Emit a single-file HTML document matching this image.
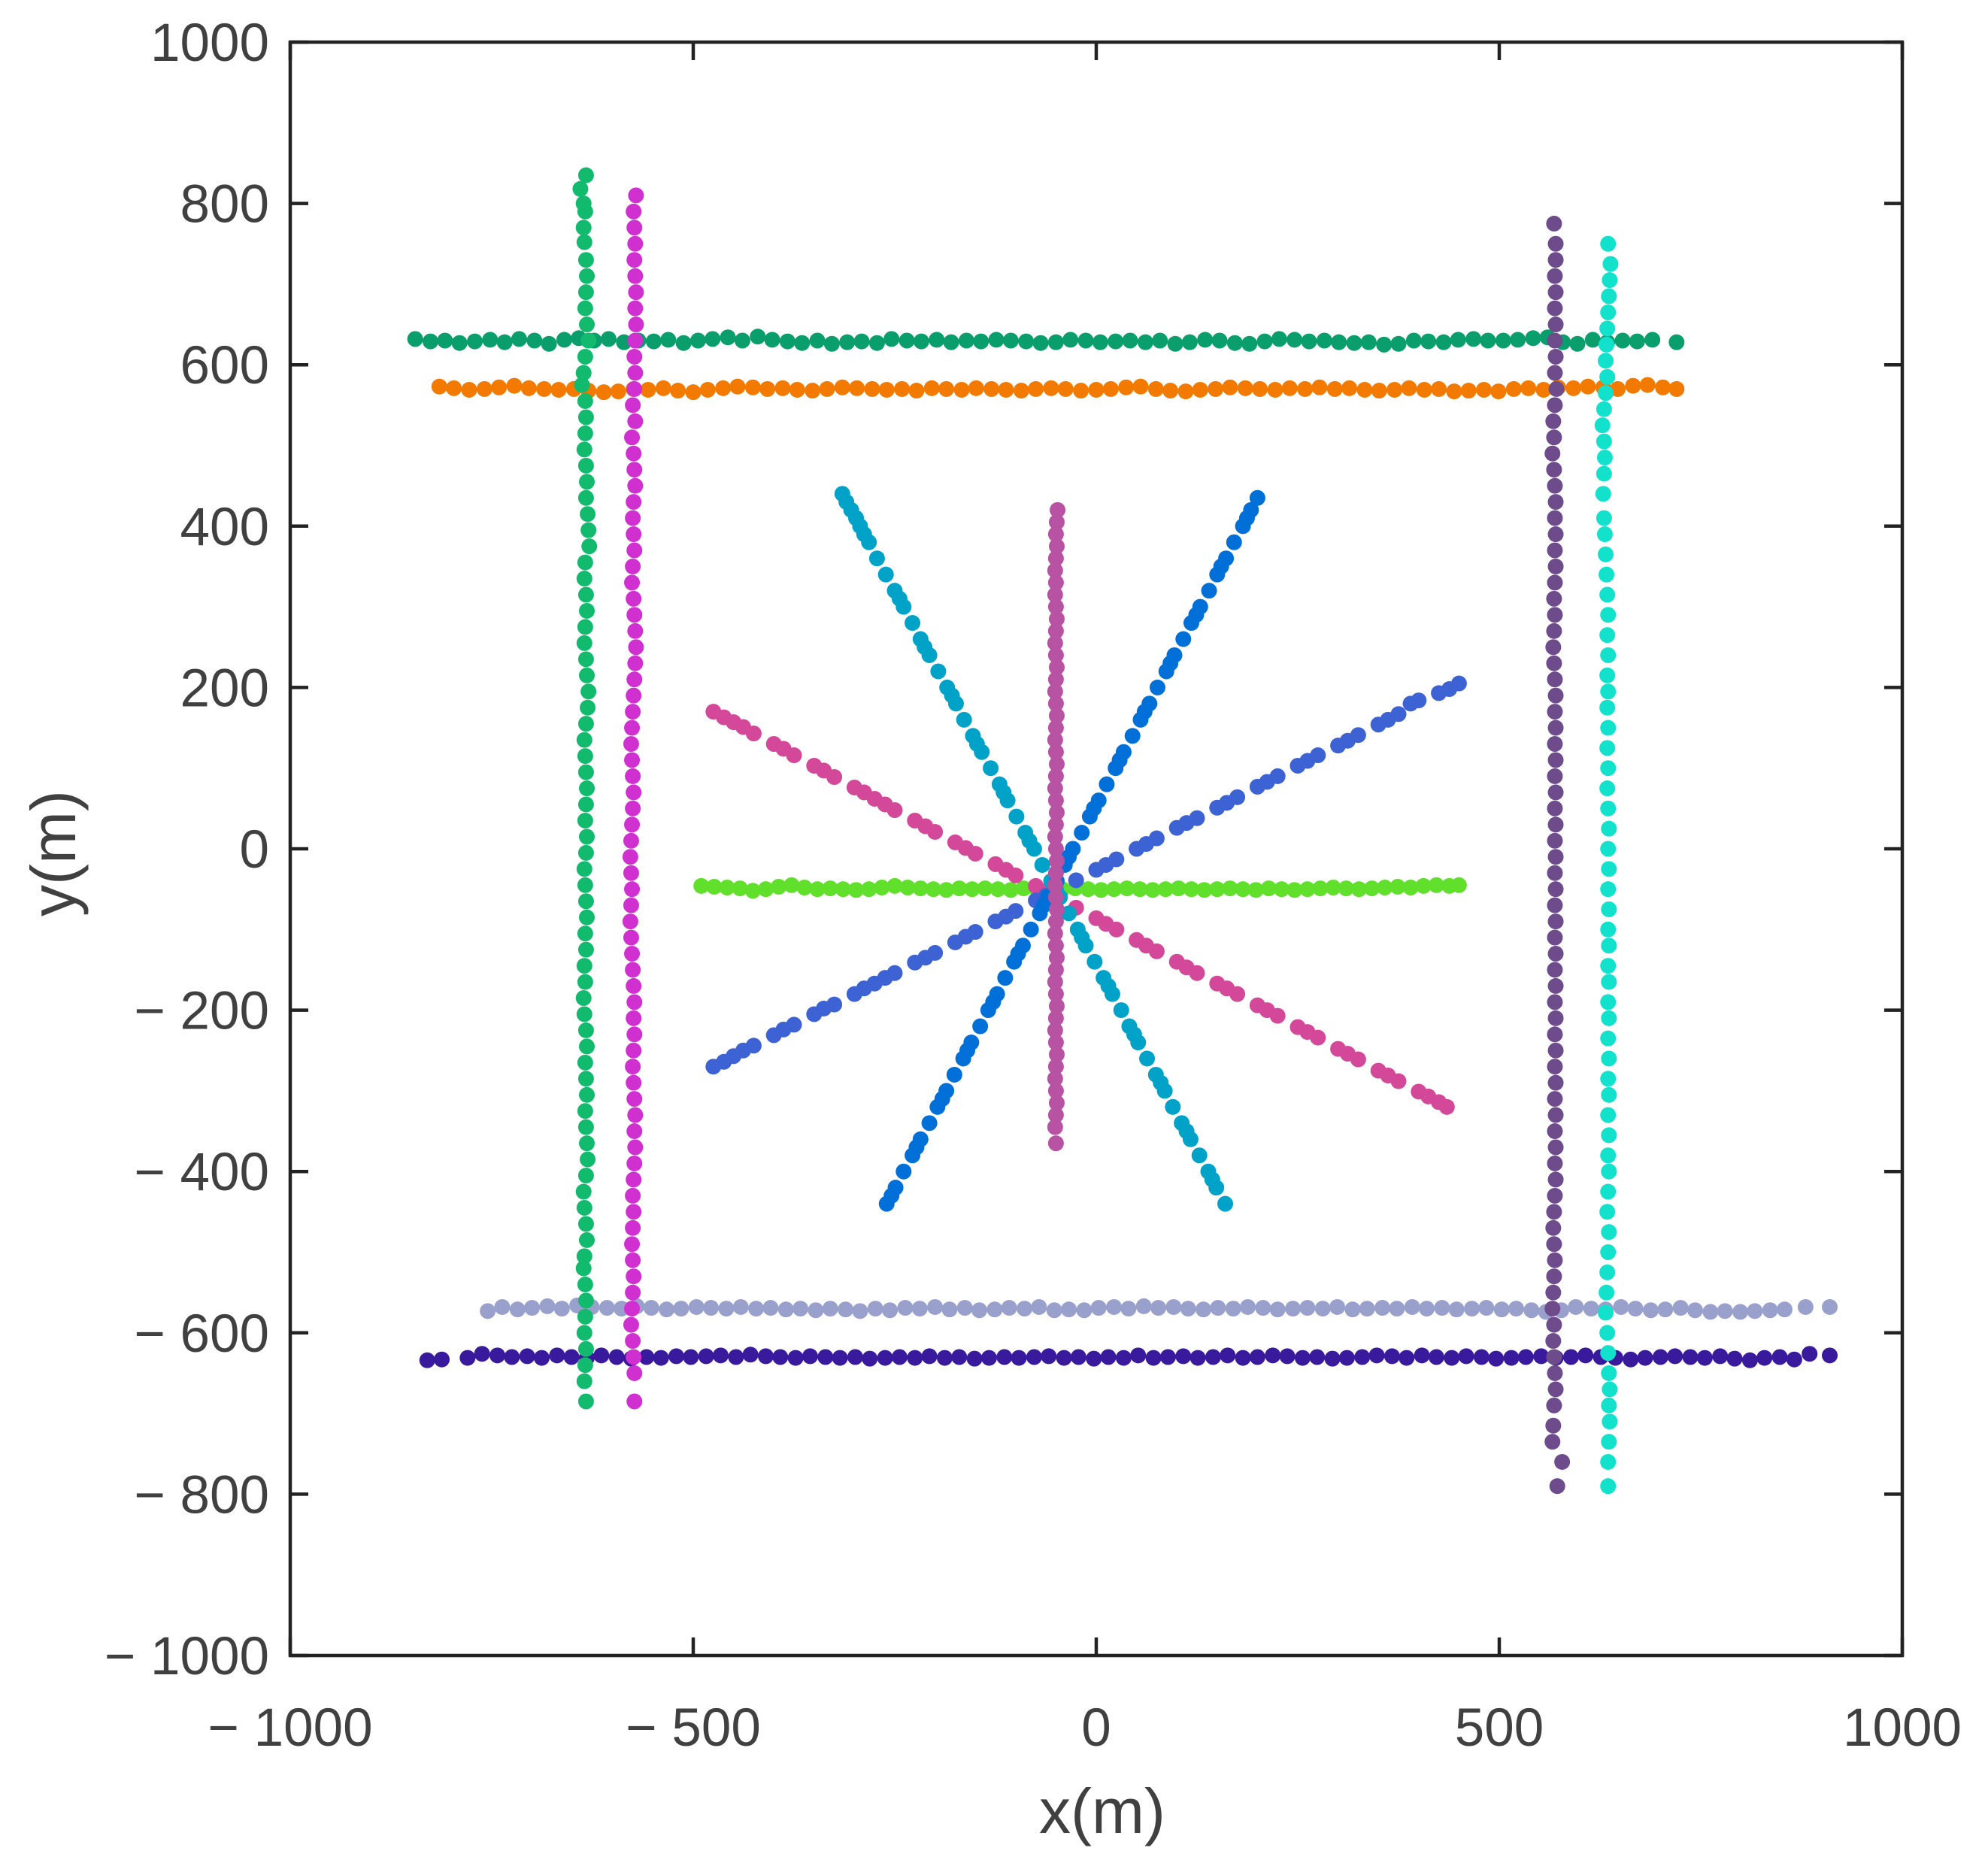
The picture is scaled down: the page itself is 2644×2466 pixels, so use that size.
<!DOCTYPE html>
<html><head><meta charset="utf-8"><style>
html,body{margin:0;padding:0;background:#fff;}
svg{display:block;font-family:"Liberation Sans",sans-serif;}
</style></head><body>
<svg id="chart" width="2644" height="2466" viewBox="0 0 2644 2466" xmlns="http://www.w3.org/2000/svg">
<rect width="2644" height="2466" fill="#fff"/>
<g id="marks"></g>
<g id="axes"></g>
<text x="1466" y="2438" font-size="84" fill="#404040" text-anchor="middle">x(m)</text>
<text x="0" y="0" font-size="84" fill="#404040" text-anchor="middle" transform="translate(100,1135) rotate(-90)">y(m)</text>
</svg>
<script>
const xTicks=[-1000,-500,0,500,1000];
const yTicks=[-1000,-800,-600,-400,-200,0,200,400,600,800,1000];
const xTickLabels=["− 1000","− 500","0","500","1000"];
const yTickLabels=["− 1000","− 800","− 600","− 400","− 200","0","200","400","600","800","1000"];
const seriesNames=["top-green-row","orange-row","lavender-row","indigo-row","green-column","magenta-column","purple-column","cyan-column","lime-row","pink-diagonal","royal-diagonal","teal-diagonal","blue-diagonal","mauve-column"];
const seriesColors=["#0a9e6c","#f27a00","#9aa0cc","#3a1a9c","#12ba6e","#d030d0","#6e4c8c","#12e2cc","#60e02a","#d4489a","#3d62d4","#00a2c8","#0070d8","#b852a2"];
const s1=[[-845,632],[-826,629],[-808,630],[-790,627],[-771,629],[-752,631],[-734,628],[-716,632],[-697,630],[-679,626],[-660,631],[-642,633],[-623,630],[-605,632],[-586,628],[-568,630],[-549,629],[-531,631],[-512,627],[-494,630],[-476,632],[-457,634],[-439,630],[-420,635],[-402,631],[-383,629],[-365,627],[-346,630],[-328,626],[-309,628],[-291,629],[-272,627],[-254,632],[-235,630],[-217,629],[-198,631],[-180,628],[-161,630],[-143,629],[-124,631],[-106,630],[-87,629],[-69,627],[-50,628],[-32,631],[-13,630],[5,628],[24,629],[42,630],[61,628],[79,630],[98,626],[116,628],[135,631],[153,630],[172,627],[190,626],[209,629],[227,632],[246,631],[264,629],[283,630],[301,628],[320,627],[338,628],[357,625],[375,626],[394,630],[412,629],[431,628],[449,631],[468,632],[486,630],[505,630],[523,631],[542,633],[560,634],[579,628],[597,626],[616,631],[634,628],[653,630],[671,629],[690,631],[720,628]];
const s2=[[-815,573],[-797,571],[-778,569],[-759,570],[-741,572],[-722,574],[-704,571],[-685,570],[-667,569],[-648,570],[-630,568],[-611,566],[-593,567],[-574,570],[-556,569],[-537,571],[-519,568],[-500,566],[-482,569],[-463,571],[-445,573],[-426,572],[-408,570],[-389,571],[-371,569],[-352,568],[-334,570],[-315,572],[-297,571],[-278,570],[-260,569],[-241,570],[-223,568],[-204,571],[-186,570],[-167,569],[-149,571],[-130,570],[-112,569],[-93,568],[-75,570],[-56,571],[-38,570],[-19,568],[0,569],[18,570],[37,572],[55,573],[74,570],[92,568],[111,567],[129,569],[148,570],[166,572],[185,571],[203,570],[222,569],[240,571],[259,570],[277,572],[296,570],[314,571],[333,569],[351,568],[370,569],[388,571],[407,569],[425,570],[444,567],[462,568],[481,569],[499,567],[518,570],[536,571],[555,569],[573,572],[592,571],[610,573],[629,572],[647,570],[666,574],[684,575],[703,572],[720,570]];
const s3=[[-755,-573],[-737,-568],[-718,-571],[-700,-569],[-681,-567],[-663,-570],[-644,-566],[-626,-568],[-607,-569],[-589,-570],[-570,-567],[-552,-569],[-533,-571],[-515,-570],[-496,-568],[-478,-569],[-459,-570],[-441,-568],[-422,-570],[-404,-569],[-385,-571],[-367,-570],[-348,-572],[-330,-570],[-311,-571],[-293,-573],[-274,-570],[-256,-572],[-237,-569],[-219,-570],[-200,-568],[-182,-571],[-163,-569],[-145,-572],[-126,-571],[-108,-569],[-89,-570],[-71,-568],[-52,-572],[-34,-571],[-15,-572],[3,-569],[22,-568],[40,-570],[59,-567],[77,-569],[96,-568],[114,-570],[133,-571],[151,-569],[170,-570],[188,-568],[207,-569],[225,-571],[244,-570],[262,-569],[281,-570],[299,-568],[318,-571],[336,-570],[355,-569],[373,-570],[392,-568],[410,-570],[429,-569],[447,-571],[466,-570],[484,-569],[503,-571],[521,-570],[540,-572],[558,-574],[577,-572],[595,-568],[614,-570],[632,-571],[651,-568],[669,-570],[688,-572],[706,-571],[725,-569],[743,-572],[762,-574],[780,-573],[799,-574],[817,-573],[836,-572],[854,-571],[880,-568],[910,-568]];
const s4=[[-830,-634],[-812,-633],[-780,-631],[-762,-626],[-743,-628],[-725,-630],[-706,-629],[-688,-631],[-669,-628],[-651,-630],[-632,-631],[-614,-628],[-595,-630],[-577,-632],[-558,-630],[-540,-631],[-521,-629],[-503,-630],[-484,-629],[-466,-628],[-447,-630],[-429,-627],[-410,-629],[-392,-630],[-373,-631],[-355,-629],[-336,-630],[-318,-631],[-299,-630],[-281,-632],[-262,-631],[-244,-630],[-225,-631],[-207,-629],[-188,-631],[-170,-630],[-151,-632],[-133,-631],[-114,-630],[-96,-631],[-77,-630],[-59,-629],[-40,-631],[-22,-630],[-3,-632],[15,-630],[34,-631],[52,-628],[71,-631],[89,-630],[108,-629],[126,-631],[145,-630],[163,-628],[182,-631],[200,-630],[219,-628],[237,-629],[256,-631],[274,-630],[293,-632],[311,-631],[330,-630],[348,-628],[367,-629],[385,-631],[404,-628],[422,-630],[441,-631],[459,-629],[478,-630],[496,-632],[515,-631],[533,-630],[552,-629],[570,-631],[589,-630],[607,-628],[626,-630],[644,-631],[663,-633],[681,-631],[700,-630],[718,-629],[737,-630],[755,-631],[774,-629],[792,-632],[811,-634],[829,-631],[848,-630],[866,-633],[885,-626],[910,-628]];
const s5=[[-633,835],[-640,818],[-636,800],[-634,790],[-636,770],[-635,752],[-633,730],[-632,710],[-633,690],[-634,670],[-632,650],[-630,630],[-634,610],[-636,590],[-638,575],[-634,555],[-633,535],[-634,515],[-635,495],[-633,475],[-632,455],[-633,435],[-631,415],[-630,395],[-629,375],[-634,355],[-635,335],[-633,315],[-632,295],[-634,275],[-635,255],[-633,235],[-632,215],[-630,195],[-631,175],[-633,155],[-635,135],[-634,115],[-633,95],[-632,75],[-633,55],[-634,35],[-632,15],[-633,-5],[-635,-25],[-634,-45],[-633,-65],[-632,-85],[-634,-105],[-633,-125],[-635,-145],[-634,-165],[-636,-185],[-635,-205],[-633,-225],[-632,-245],[-634,-265],[-633,-285],[-632,-305],[-634,-325],[-633,-345],[-632,-365],[-631,-385],[-633,-405],[-636,-425],[-635,-445],[-633,-465],[-632,-485],[-635,-505],[-636,-520],[-634,-540],[-633,-560],[-634,-580],[-635,-600],[-633,-620],[-634,-640],[-635,-660],[-633,-685]];
const s6=[[-571,810],[-574,790],[-573,770],[-572,750],[-573,730],[-572,710],[-571,690],[-572,670],[-571,650],[-572,630],[-573,610],[-572,590],[-573,570],[-575,550],[-572,530],[-576,510],[-574,490],[-573,470],[-572,450],[-574,430],[-575,410],[-574,390],[-573,370],[-575,350],[-576,330],[-574,310],[-573,290],[-572,270],[-571,250],[-572,230],[-573,210],[-574,190],[-575,170],[-576,150],[-577,130],[-576,110],[-575,90],[-574,70],[-575,50],[-576,30],[-577,10],[-578,-10],[-577,-30],[-576,-50],[-577,-70],[-578,-90],[-577,-110],[-576,-130],[-575,-150],[-574,-170],[-573,-190],[-574,-210],[-573,-230],[-574,-250],[-575,-270],[-574,-290],[-573,-310],[-572,-330],[-573,-350],[-572,-370],[-573,-390],[-574,-410],[-575,-430],[-574,-450],[-575,-470],[-576,-490],[-575,-510],[-574,-530],[-575,-550],[-576,-570],[-577,-590],[-575,-610],[-574,-630],[-573,-650],[-573,-685]];
const s7=[[568,775],[570,750],[570,730],[569,710],[570,690],[569,670],[570,650],[569,630],[570,610],[569,590],[571,570],[569,550],[567,530],[568,510],[566,490],[568,470],[569,450],[570,430],[569,410],[570,390],[569,370],[570,350],[569,330],[568,310],[569,290],[568,270],[567,250],[568,230],[569,210],[570,190],[569,170],[570,150],[569,130],[570,110],[569,90],[570,70],[569,50],[570,30],[569,10],[570,-10],[569,-30],[570,-50],[569,-70],[570,-90],[569,-110],[570,-130],[569,-150],[570,-170],[569,-190],[570,-210],[569,-230],[570,-250],[569,-270],[570,-290],[569,-310],[570,-330],[569,-350],[570,-370],[569,-390],[570,-410],[569,-430],[568,-450],[567,-470],[568,-490],[569,-510],[568,-530],[567,-550],[566,-570],[568,-590],[567,-610],[568,-630],[569,-650],[570,-670],[568,-690],[567,-715],[566,-735],[578,-760],[572,-790]];
const s8=[[635,750],[638,725],[637,705],[636,685],[635,665],[634,645],[633,625],[632,605],[634,585],[632,565],[630,545],[628,525],[630,505],[631,485],[630,465],[629,440],[630,410],[631,390],[632,365],[633,340],[634,315],[635,290],[634,265],[635,240],[634,215],[635,195],[634,175],[635,150],[634,125],[635,100],[634,75],[635,50],[636,25],[635,0],[636,-25],[635,-50],[636,-75],[635,-100],[636,-120],[635,-145],[636,-165],[635,-190],[636,-210],[635,-235],[636,-260],[635,-285],[636,-305],[635,-330],[636,-355],[635,-380],[636,-400],[635,-425],[634,-450],[636,-475],[635,-500],[634,-525],[633,-550],[632,-575],[634,-600],[635,-625],[636,-650],[637,-670],[636,-690],[637,-710],[636,-735],[635,-760],[635,-790]];
const s9=[[-490,-46],[-474,-47],[-458,-48],[-442,-49],[-426,-52],[-410,-50],[-394,-47],[-378,-45],[-362,-48],[-346,-50],[-330,-49],[-314,-50],[-298,-51],[-282,-50],[-266,-48],[-250,-46],[-234,-48],[-218,-49],[-202,-50],[-186,-51],[-170,-49],[-154,-50],[-138,-49],[-122,-50],[-106,-51],[-90,-49],[-74,-50],[-58,-51],[-42,-50],[-26,-49],[-10,-50],[6,-51],[22,-50],[38,-49],[54,-50],[70,-51],[86,-50],[102,-49],[118,-50],[134,-51],[150,-50],[166,-49],[182,-50],[198,-51],[214,-49],[230,-50],[246,-51],[262,-50],[278,-49],[294,-48],[310,-49],[326,-50],[342,-49],[358,-48],[374,-47],[390,-48],[406,-46],[422,-45],[438,-46],[450,-45]];
const s10=[[-475,170],[-462,163],[-450,157],[-438,151],[-425,143],[-400,130],[-388,124],[-375,116],[-350,103],[-338,97],[-325,89],[-300,76],[-288,70],[-275,62],[-262,55],[-250,48],[-225,35],[-212,28],[-200,21],[-175,8],[-162,1],[-150,-6],[-125,-19],[-112,-26],[-100,-33],[-75,-46],[-62,-53],[-50,-60],[-25,-73],[0,-86],[12,-93],[25,-100],[50,-113],[62,-120],[75,-127],[100,-140],[112,-147],[125,-154],[150,-167],[162,-173],[175,-180],[200,-194],[212,-200],[225,-207],[250,-221],[262,-227],[275,-234],[300,-248],[312,-254],[325,-261],[350,-275],[362,-281],[375,-288],[400,-301],[412,-307],[425,-314],[435,-320]];
const s11=[[-475,-270],[-462,-264],[-450,-257],[-438,-250],[-425,-244],[-400,-231],[-388,-224],[-375,-218],[-350,-205],[-338,-198],[-325,-193],[-300,-180],[-288,-173],[-275,-167],[-262,-160],[-250,-154],[-225,-141],[-212,-135],[-200,-129],[-175,-116],[-162,-109],[-150,-103],[-125,-90],[-112,-84],[-100,-77],[-75,-64],[-62,-58],[-50,-51],[-25,-39],[0,-26],[12,-20],[25,-13],[50,0],[62,6],[75,13],[100,26],[112,32],[125,38],[150,51],[162,57],[175,64],[200,77],[212,83],[225,90],[250,103],[262,109],[275,116],[300,128],[312,134],[325,141],[350,154],[362,160],[375,167],[390,180],[400,184],[425,193],[438,198],[450,205]];
const s12=[[-315,440],[-310,430],[-304,420],[-298,410],[-293,400],[-288,390],[-282,380],[-272,360],[-261,340],[-250,320],[-244,310],[-239,300],[-228,280],[-218,260],[-213,250],[-207,240],[-196,220],[-185,200],[-179,190],[-174,180],[-164,160],[-153,140],[-148,130],[-142,120],[-131,100],[-120,80],[-115,70],[-110,60],[-99,40],[-88,20],[-83,10],[-77,0],[-67,-20],[-56,-40],[-50,-50],[-45,-60],[-34,-80],[-23,-100],[-18,-110],[-13,-120],[-2,-140],[9,-160],[15,-170],[20,-180],[31,-200],[41,-220],[47,-230],[52,-240],[63,-260],[74,-280],[80,-290],[85,-300],[95,-320],[106,-340],[112,-350],[117,-360],[128,-380],[139,-400],[144,-410],[149,-420],[160,-440]];
const s13=[[-260,-440],[-254,-430],[-249,-420],[-239,-400],[-228,-380],[-223,-370],[-218,-360],[-207,-340],[-197,-320],[-191,-310],[-186,-300],[-176,-280],[-165,-260],[-160,-250],[-155,-240],[-144,-220],[-134,-200],[-128,-190],[-123,-180],[-113,-160],[-102,-140],[-97,-130],[-91,-120],[-81,-100],[-70,-80],[-65,-70],[-60,-60],[-49,-40],[-39,-20],[-34,-10],[-29,0],[-18,20],[-8,40],[-3,50],[3,60],[13,80],[24,100],[29,110],[34,120],[45,140],[55,160],[60,170],[66,180],[76,200],[87,220],[92,230],[97,240],[108,260],[118,280],[124,290],[129,300],[140,320],[150,340],[155,350],[161,360],[171,380],[182,400],[187,410],[192,420],[200,435]];
const s14=[[-48,420],[-49,405],[-50,390],[-49,375],[-50,360],[-51,345],[-50,330],[-51,315],[-50,300],[-49,285],[-50,270],[-51,255],[-50,240],[-49,225],[-50,210],[-51,195],[-50,180],[-49,165],[-50,150],[-51,135],[-50,120],[-49,105],[-50,90],[-51,75],[-50,60],[-49,45],[-50,30],[-51,15],[-50,0],[-49,-15],[-50,-30],[-51,-45],[-50,-60],[-49,-75],[-50,-90],[-51,-105],[-50,-120],[-49,-135],[-50,-150],[-51,-165],[-50,-180],[-49,-195],[-50,-210],[-51,-225],[-50,-240],[-49,-255],[-50,-270],[-51,-285],[-50,-300],[-49,-315],[-50,-330],[-51,-345],[-50,-365]];
const allSeries=[s1,s2,s3,s4,s5,s6,s7,s8,s9,s10,s11,s12,s13,s14];

const L=386,R=2530,T=56,B=2202;
function sx(v){return L+(v+1000)/2000*(R-L);}
function sy(v){return B-(v+1000)/2000*(B-T);}
const NS="http://www.w3.org/2000/svg";
const marks=document.getElementById('marks');
const axes=document.getElementById('axes');
allSeries.forEach((pts,i)=>{
  const g=document.createElementNS(NS,'g');
  
  
  g.setAttribute('fill',seriesColors[i]);
  pts.forEach(p=>{
    const c=document.createElementNS(NS,'circle');
    c.setAttribute('cx',sx(p[0]));c.setAttribute('cy',sy(p[1]));c.setAttribute('r',10.5);
    
    
    g.appendChild(c);
  });
  marks.appendChild(g);
});
function line(x1,y1,x2,y2,name){
  const l=document.createElementNS(NS,'line');
  l.setAttribute('x1',x1);l.setAttribute('y1',y1);l.setAttribute('x2',x2);l.setAttribute('y2',y2);
  l.setAttribute('stroke','#222');l.setAttribute('stroke-width',4.5);
  
  
  axes.appendChild(l);
}
const box=document.createElementNS(NS,'rect');
box.setAttribute('x',L);box.setAttribute('y',T);box.setAttribute('width',R-L);box.setAttribute('height',B-T);
box.setAttribute('fill','none');box.setAttribute('stroke','#222');box.setAttribute('stroke-width',4.5);


axes.appendChild(box);
function text(x,y,s,anchor,name){
  const t=document.createElementNS(NS,'text');
  t.setAttribute('x',x);t.setAttribute('y',y);t.setAttribute('font-size',71);t.setAttribute('fill','#404040');
  t.setAttribute('text-anchor',anchor);t.textContent=s;
  
  
  axes.appendChild(t);
}
xTicks.forEach((v,i)=>{
  const x=sx(v);
  line(x,B,x,B-24,'x-tick');
  line(x,T,x,T+24,'x-tick-top');
  text(x,2322,xTickLabels[i],'middle','x-tick-label');
});
yTicks.forEach((v,i)=>{
  const y=sy(v);
  line(L,y,L+24,y,'y-tick');
  line(R,y,R-24,y,'y-tick-right');
  text(358,y+25,yTickLabels[i],'end','y-tick-label');
});
</script>
</body></html>
